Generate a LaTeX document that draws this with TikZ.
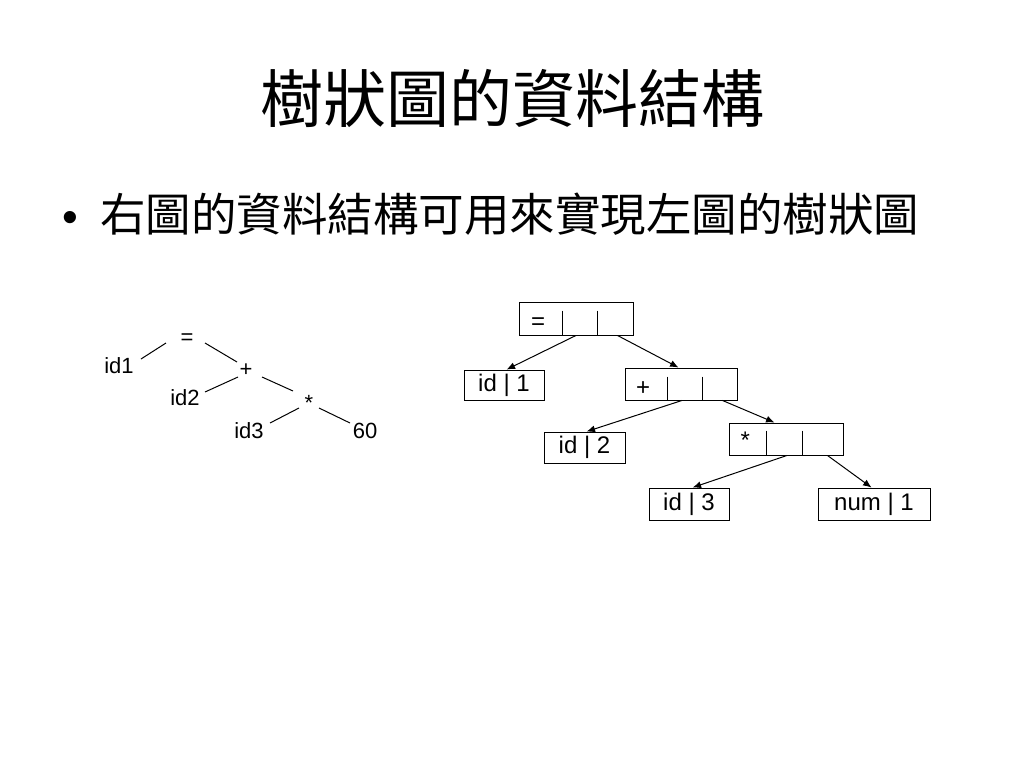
\documentclass[tikz,border=0pt]{standalone}
\usepackage{fontspec}
\setmainfont{Liberation Sans}
\newfontfamily\cjk{Noto Sans CJK TC}
\usetikzlibrary{arrows.meta}
\begin{document}
\begin{tikzpicture}[x=1pt,y=-1pt,
  lbl/.style={inner sep=0pt,anchor=base,font=\fontsize{22}{24}\selectfont},
  tline/.style={line width=1pt},
  rec/.style={draw,line width=0.9pt,inner sep=0pt,font=\fontsize{24}{26}\selectfont},
  ptr/.style={rec,inner sep=0pt,text width=#1,align=left},
  cell/.style={line width=0.9pt},
  arr/.style={line width=1pt,-{Latex[length=8.5pt,width=7pt]}}]
\useasboundingbox (0,0) rectangle (1024,768);
\fill[white] (0,0) rectangle (1024,768);
% title
\node[inner sep=0pt,font=\cjk\fontsize{63}{65}\selectfont] (title) at (512,98) {樹狀圖的資料結構};
\node[inner sep=0pt,font=\fontsize{45}{47}\selectfont] (bul) at (70,222) {\textbullet};
\node[inner sep=0pt,anchor=west,font=\cjk\fontsize{45.5}{47}\selectfont] (sub) at (100,214) {右圖的資料結構可用來實現左圖的樹狀圖};
% left tree
\node[lbl] (eq) at (187,344) {=};
\node[lbl] (i1) at (119,373) {id1};
\node[lbl] (pl) at (246,376) {+};
\node[lbl] (i2) at (185,405) {id2};
\node[lbl] (st) at (309,410) {*};
\node[lbl] (i3) at (249,438) {id3};
\node[lbl] (sx) at (365,438) {60};
\draw[tline] ([shift={(-21,-1)}]eq.base) -- ([shift={(22,-14)}]i1.base);
\draw[tline] ([shift={(18,-1)}]eq.base) -- ([shift={(-9,-14)}]pl.base);
\draw[tline] ([shift={(-8,1)}]pl.base) -- ([shift={(20,-13)}]i2.base);
\draw[tline] ([shift={(16,1)}]pl.base) -- ([shift={(-16,-19)}]st.base);
\draw[tline] ([shift={(-10,-2)}]st.base) -- ([shift={(21,-15)}]i3.base);
\draw[tline] ([shift={(10,-2)}]st.base) -- ([shift={(-15,-15)}]sx.base);
% right tree: pointer boxes
\node[ptr=114pt,text height=27pt,text depth=6pt] (eqb) at (576,318.5) {\hspace*{12pt}=};
\draw[cell] ([shift={(44,9)}]eqb.north west) -- ([xshift=44pt]eqb.south west);
\draw[cell] ([shift={(79,9)}]eqb.north west) -- ([xshift=79pt]eqb.south west);
\node[ptr=112pt,text height=27pt,text depth=5pt] (plb) at (681,384) {\hspace*{11pt}+};
\draw[cell] ([shift={(43,9)}]plb.north west) -- ([xshift=43pt]plb.south west);
\draw[cell] ([shift={(78,9)}]plb.north west) -- ([xshift=78pt]plb.south west);
\node[ptr=114pt,text height=25pt,text depth=7pt] (stb) at (786,439) {\hspace*{11.5pt}*};
\draw[cell] ([shift={(38,8)}]stb.north west) -- ([xshift=38pt]stb.south west);
\draw[cell] ([shift={(74,8)}]stb.north west) -- ([xshift=74pt]stb.south west);
% right tree: leaf boxes
\node[rec,minimum width=80pt,minimum height=30pt] (id1b) at (504,385) {id | 1};
\node[rec,minimum width=81pt,minimum height=31pt] (id2b) at (584.5,447.5) {id | 2};
\node[rec,minimum width=80pt,minimum height=32pt] (id3b) at (689,504) {id | 3};
\node[rec,minimum width=112pt,minimum height=32pt] (numb) at (874,504) {num | 1};
% arrows
\draw[arr] (eqb.south) -- ([xshift=43pt]id1b.north west);
\draw[arr] ([xshift=-16pt]eqb.south east) -- ([xshift=54pt]plb.north west);
\draw[arr] ([xshift=1pt]plb.south) -- ([xshift=43pt]id2b.north west);
\draw[arr] ([xshift=-15pt]plb.south east) -- ([xshift=46pt]stb.north west);
\draw[arr] ([xshift=1pt]stb.south) -- ([xshift=44pt]id3b.north west);
\draw[arr] ([xshift=-16pt]stb.south east) -- ([xshift=54pt]numb.north west);
\end{tikzpicture}
\end{document}
